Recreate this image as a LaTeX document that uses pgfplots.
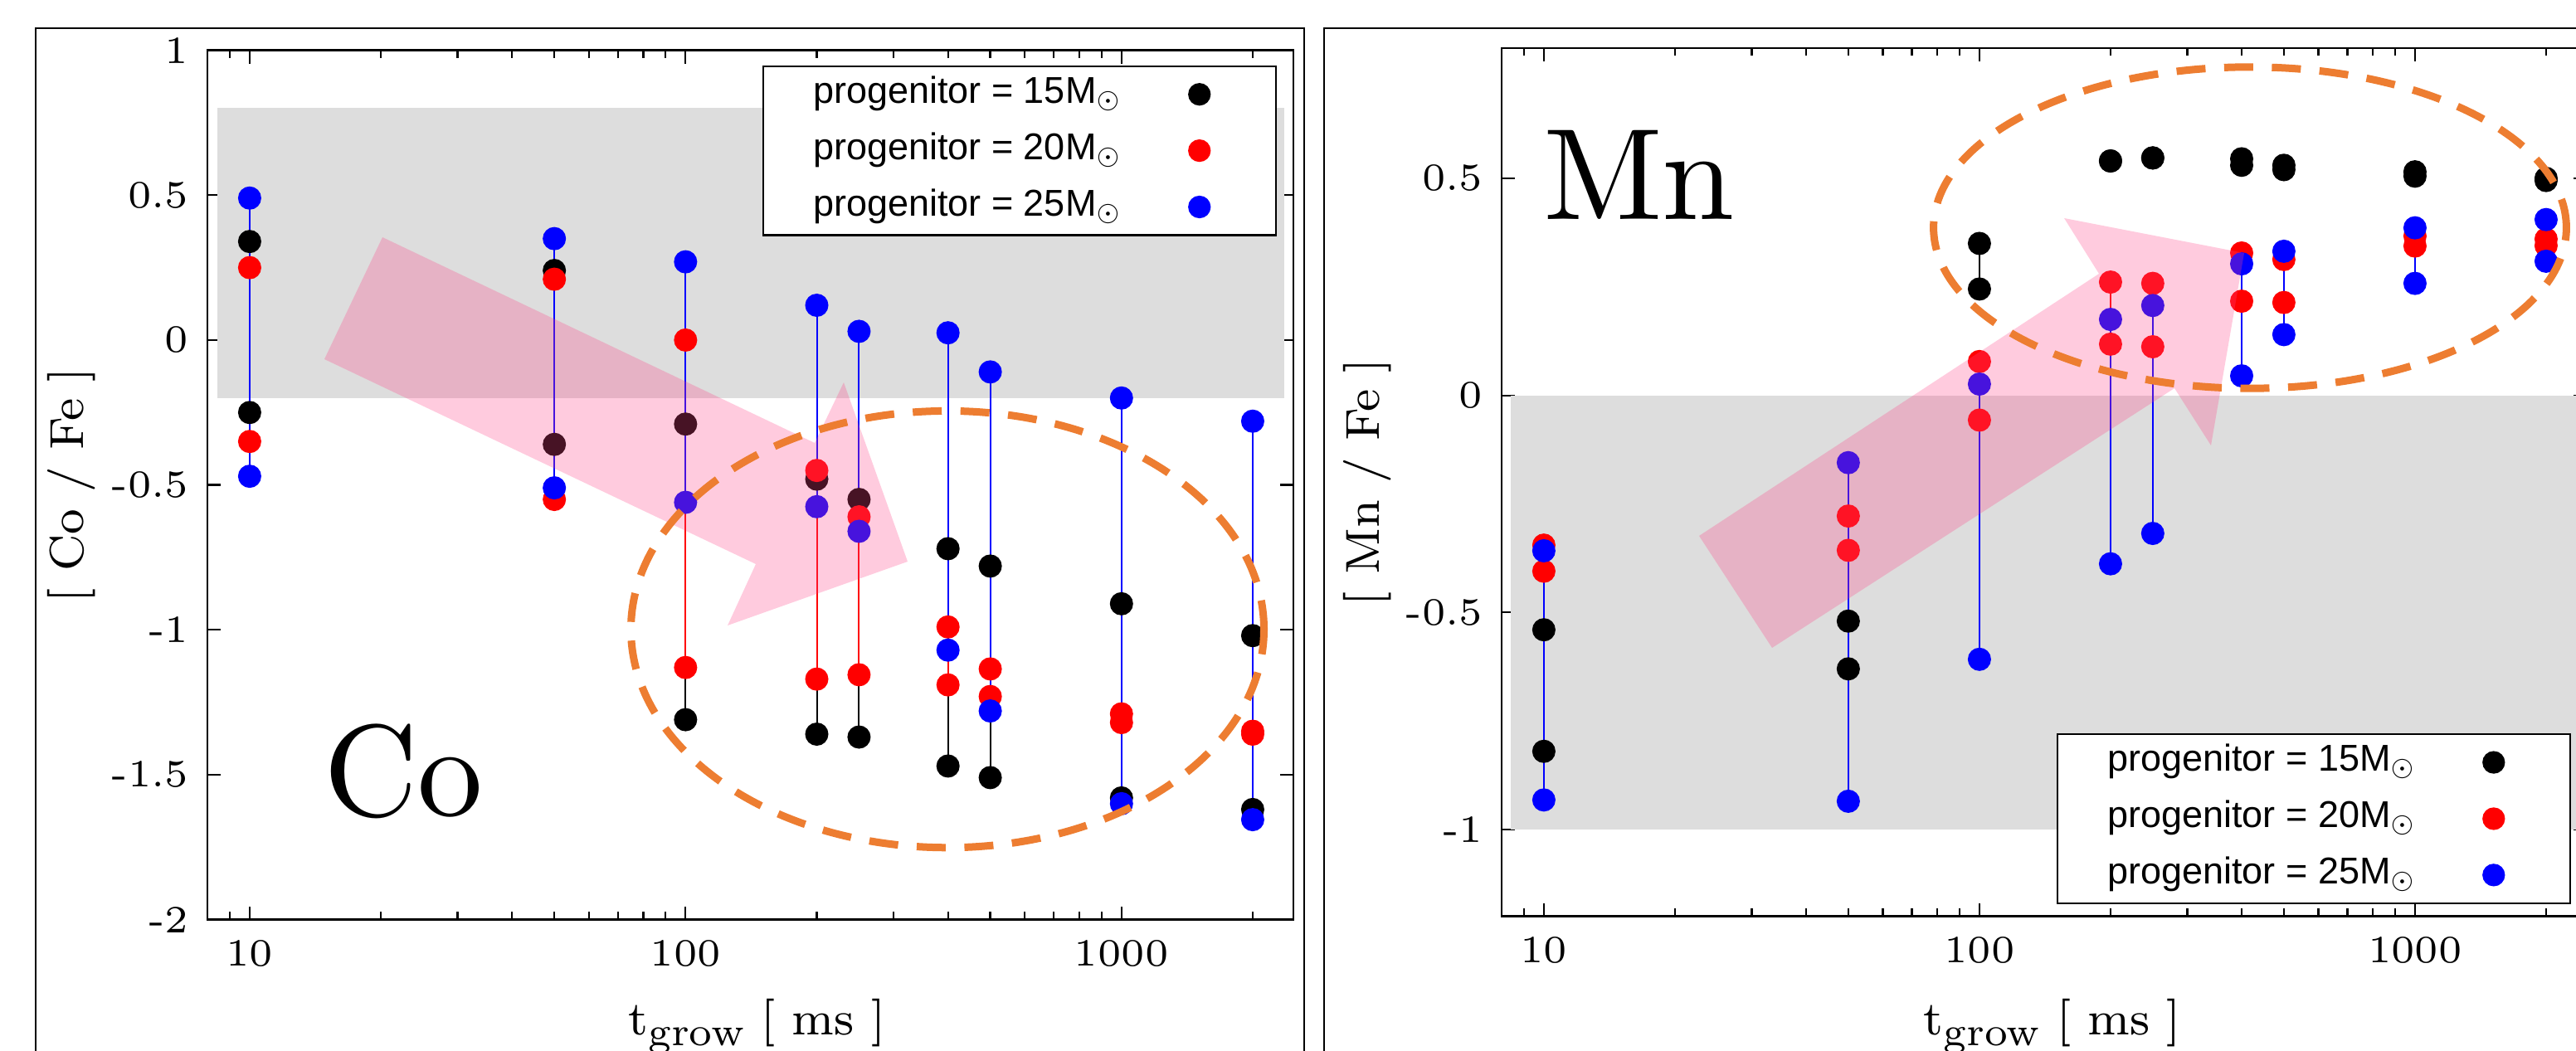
\documentclass[border=0pt]{standalone}
\usepackage{fontspec}
\usepackage{graphicx}
\usepackage{pgfplots}
\pgfplotsset{compat=1.18}

\newfontfamily\legfont{Liberation Sans}
\definecolor{band}{RGB}{221,221,221}
\definecolor{arrowpink}{RGB}{255,70,135}
\definecolor{ringorange}{RGB}{237,125,49}

% tick labels: small optical size, scaled up (wide digits as in the original)
\newcommand{\tlab}[1]{\scalebox{1.55}{\fontsize{6}{7}\selectfont #1}}
\newcommand{\axlab}[1]{\scalebox{1.44}{\fontsize{8}{9}\selectfont #1}}
\newcommand{\tgrow}{\axlab{t\raisebox{-1.7pt}{\fontsize{6.8}{7}\selectfont grow} [ ms ]}}
\newcommand{\elname}[1]{\scalebox{3.14}{\fontsize{10}{12}\selectfont #1}}
\newcommand{\prog}[1]{\makebox[86.8pt][l]{\hspace*{12.1pt}progenitor = #1M$_\odot$}}

\begin{document}
\begin{tikzpicture}
\useasboundingbox (0,0) rectangle (621pt,-253.4pt);
\clip (0,0) rectangle (621pt,-253.4pt);

% ---------------- Co panel ----------------
\begin{axis}[
  scale only axis,
  at={(50pt,-221.72pt)}, anchor=south west,
  width=261.8pt, height=209.6pt,
  xmode=log, xmin=8, xmax=2480,
  xtick={10,100,1000},
  xticklabels={\tlab{10},\tlab{100},\tlab{1000}},
  minor xtick={9,20,30,40,50,60,70,80,90,200,300,400,500,600,700,800,900,2000},
  ymin=-2, ymax=1,
  ytick={-2,-1.5,-1,-0.5,0,0.5,1},
  yticklabels={\tlab{-2},\tlab{-1.5},\tlab{-1},\tlab{-0.5},\tlab{0},\tlab{0.5},\tlab{1}},
  major tick length=3.2pt, minor tick length=1.9pt,
  axis line style={line width=0.45pt},
  tick style={black, line width=0.45pt},
  yticklabel style={xshift=-1pt},
  xticklabel style={yshift=-1.5pt},
  xlabel={\tgrow},
  xlabel style={at={(axis description cs:0.506,-0.133)}, anchor=base},
  ylabel={\axlab{[ Co / Fe ]}},
  ylabel style={at={(axis description cs:-0.1253,0.5)}, anchor=center},
  legend plot pos=right,
  legend image code/.code={\path (0pt,0pt) (36.4pt,0pt); \fill[#1] (18.2pt,0pt) circle (2.5pt);},
  legend style={at={(axis description cs:0.9847,0.9828)}, anchor=north east,
    draw=black, line width=0.45pt, fill=white,
    inner sep=0pt, column sep=0pt, row sep=0pt,
    font=\legfont\fontsize{9}{10}\selectfont,
    nodes={inner sep=0pt, text height=8.94pt, text depth=4.64pt},
    cells={anchor=west}},
]
\addplot[fill=band, draw=none, forget plot]
  coordinates {(8.43,-0.2) (2360,-0.2) (2360,0.8) (8.43,0.8)} -- cycle;

\addplot[black, line width=0.4pt, mark=*, mark size=2.6pt, unbounded coords=jump, forget plot] coordinates {
  (10,0.34)(10,-0.25)(10,nan) (50,0.24)(50,-0.36)(50,nan)
  (100,-0.29)(100,-1.31)(100,nan) (200,-0.48)(200,-1.36)(200,nan)
  (250,-0.55)(250,-1.37)(250,nan) (400,-0.72)(400,-1.47)(400,nan)
  (500,-0.78)(500,-1.51)(500,nan) (1000,-0.91)(1000,-1.58)(1000,nan)
  (2000,-1.02)(2000,-1.62)};
\addplot[red, line width=0.4pt, mark=*, mark size=2.6pt, unbounded coords=jump, forget plot] coordinates {
  (10,0.25)(10,-0.35)(10,nan) (50,0.21)(50,-0.55)(50,nan)
  (100,0.00)(100,-1.13)(100,nan) (200,-0.45)(200,-1.17)(200,nan)
  (250,-0.61)(250,-1.155)(250,nan) (400,-0.99)(400,-1.19)(400,nan)
  (500,-1.135)(500,-1.23)(500,nan) (1000,-1.29)(1000,-1.32)(1000,nan)
  (2000,-1.35)(2000,-1.36)};
\addplot[blue, line width=0.4pt, mark=*, mark size=2.6pt, unbounded coords=jump, forget plot] coordinates {
  (10,0.49)(10,-0.47)(10,nan) (50,0.35)(50,-0.51)(50,nan)
  (100,0.27)(100,-0.56)(100,nan) (200,0.12)(200,-0.575)(200,nan)
  (250,0.03)(250,-0.66)(250,nan) (400,0.025)(400,-1.07)(400,nan)
  (500,-0.11)(500,-1.28)(500,nan) (1000,-0.20)(1000,-1.60)(1000,nan)
  (2000,-0.28)(2000,-1.655)};

\addlegendimage{black}\addlegendentry{\prog{15}}
\addlegendimage{red}\addlegendentry{\prog{20}}
\addlegendimage{blue}\addlegendentry{\prog{25}}
\end{axis}

% ---------------- Mn panel ----------------
\begin{axis}[
  scale only axis,
  at={(362pt,-220.92pt)}, anchor=south west,
  width=261.6pt, height=209.32pt,
  xmode=log, xmin=8, xmax=2480,
  xtick={10,100,1000},
  xticklabels={\tlab{10},\tlab{100},\tlab{1000}},
  minor xtick={9,20,30,40,50,60,70,80,90,200,300,400,500,600,700,800,900,2000},
  ymin=-1.2, ymax=0.8,
  ytick={-1,-0.5,0,0.5},
  yticklabels={\tlab{-1},\tlab{-0.5},\tlab{0},\tlab{0.5}},
  major tick length=3.2pt, minor tick length=1.9pt,
  axis line style={line width=0.45pt},
  tick style={black, line width=0.45pt},
  yticklabel style={xshift=-1pt},
  xticklabel style={yshift=-1.5pt},
  xlabel={\tgrow},
  xlabel style={at={(axis description cs:0.5076,-0.137)}, anchor=base},
  ylabel={\axlab{[ Mn / Fe ]}},
  ylabel style={at={(axis description cs:-0.1239,0.5)}, anchor=center},
  legend plot pos=right,
  legend image code/.code={\path (0pt,0pt) (36.4pt,0pt); \fill[#1] (18.2pt,0pt) circle (2.5pt);},
  legend style={at={(axis description cs:0.9855,0.014)}, anchor=south east,
    draw=black, line width=0.45pt, fill=white,
    inner sep=0pt, column sep=0pt, row sep=0pt,
    font=\legfont\fontsize{9}{10}\selectfont,
    nodes={inner sep=0pt, text height=8.94pt, text depth=4.64pt},
    cells={anchor=west}},
]
\addplot[fill=band, draw=none, forget plot]
  coordinates {(8.41,-1) (2360,-1) (2360,0) (8.41,0)} -- cycle;

\addplot[black, line width=0.4pt, mark=*, mark size=2.6pt, unbounded coords=jump, forget plot] coordinates {
  (10,-0.54)(10,-0.82)(10,nan) (50,-0.52)(50,-0.63)(50,nan)
  (100,0.35)(100,0.245)(100,nan) (200,0.54)(200,0.54)(200,nan)
  (250,0.547)(250,0.547)(250,nan) (400,0.545)(400,0.53)(400,nan)
  (500,0.53)(500,0.52)(500,nan) (1000,0.515)(1000,0.505)(1000,nan)
  (2000,0.50)(2000,0.495)};
\addplot[red, line width=0.4pt, mark=*, mark size=2.6pt, unbounded coords=jump, forget plot] coordinates {
  (10,-0.345)(10,-0.405)(10,nan) (50,-0.278)(50,-0.357)(50,nan)
  (100,0.078)(100,-0.057)(100,nan) (200,0.261)(200,0.118)(200,nan)
  (250,0.258)(250,0.112)(250,nan) (400,0.328)(400,0.217)(400,nan)
  (500,0.313)(500,0.214)(500,nan) (1000,0.367)(1000,0.344)(1000,nan)
  (2000,0.36)(2000,0.345)};
\addplot[blue, line width=0.4pt, mark=*, mark size=2.6pt, unbounded coords=jump, forget plot] coordinates {
  (10,-0.358)(10,-0.932)(10,nan) (50,-0.155)(50,-0.935)(50,nan)
  (100,0.026)(100,-0.608)(100,nan) (200,0.175)(200,-0.388)(200,nan)
  (250,0.207)(250,-0.318)(250,nan) (400,0.303)(400,0.045)(400,nan)
  (500,0.332)(500,0.14)(500,nan) (1000,0.386)(1000,0.258)(1000,nan)
  (2000,0.405)(2000,0.309)};

\addlegendimage{black}\addlegendentry{\prog{15}}
\addlegendimage{red}\addlegendentry{\prog{20}}
\addlegendimage{blue}\addlegendentry{\prog{25}}
\end{axis}

% annotations: translucent arrows, dashed rings, element names
\fill[arrowpink, fill opacity=0.28]
  (92.2pt,-57.2pt) -- (196.4pt,-106.8pt) -- (203.4pt,-92.2pt) -- (218.8pt,-135.4pt)
  -- (175.4pt,-150.8pt) -- (182.2pt,-136pt) -- (78.2pt,-86.6pt) -- cycle;
\fill[arrowpink, fill opacity=0.28]
  (409.6pt,-129.2pt) -- (506pt,-66pt) -- (497.6pt,-52.6pt) -- (541pt,-61pt)
  -- (533pt,-107.4pt) -- (524.2pt,-93.6pt) -- (427.2pt,-156.2pt) -- cycle;

\draw[ringorange, line width=1.8pt, dash pattern=on 7pt off 4.5pt]
  (228.4pt,-151.72pt) ellipse [x radius=76.3pt, y radius=52.64pt];
\draw[ringorange, line width=1.8pt, dash pattern=on 7pt off 4.5pt]
  (542.4pt,-54.9pt) ellipse [x radius=76.28pt, y radius=38.74pt];

\node[anchor=base west, inner sep=0pt] at (77.8pt,-196.8pt) {\elname{Co}};
\node[anchor=base west, inner sep=0pt] at (371.8pt,-53pt) {\elname{Mn}};

% panel frames
\draw[line width=0.45pt] (8.6pt,-6.8pt) rectangle (314.4pt,-270pt);
\draw[line width=0.45pt] (319.2pt,-6.8pt) rectangle (640pt,-270pt);
\end{tikzpicture}
\end{document}
